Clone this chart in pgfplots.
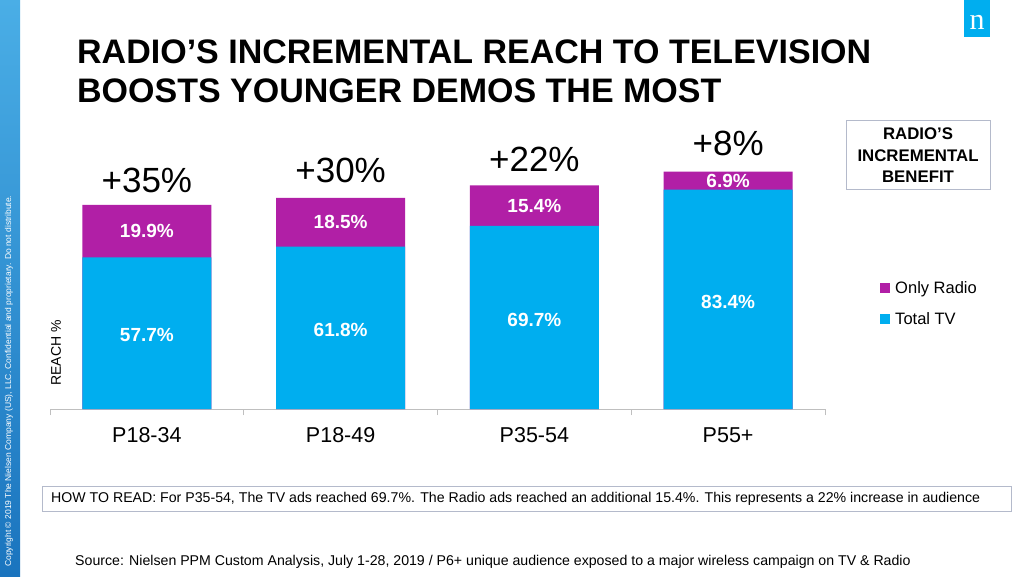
\documentclass[border=0pt]{standalone}
\usepackage{fontspec}
\setmainfont{Liberation Sans}
\newfontfamily\seriffont{Liberation Serif}
\usepackage{pgfplots}
\usepackage{pgfplotstable}
\pgfplotsset{compat=1.18}
\definecolor{tvblue}{HTML}{00AEEF}
\definecolor{radiopurple}{HTML}{B11FA6}
\definecolor{axisgray}{HTML}{BFBFBF}
\definecolor{boxgray}{HTML}{B4BACB}
\definecolor{nielsen}{HTML}{00AEEF}
\definecolor{striptop}{HTML}{4AAEE6}
\definecolor{stripbot}{HTML}{1A74BE}

% x: category index, tv: Total TV reach, radio: Only Radio reach,
% inc: incremental benefit, incy: height of the benefit label
\pgfplotstableread{
x tv radio inc incy
0 57.7 19.9 35 82.5
1 61.8 18.5 30 86.0
2 69.7 15.4 22 90.5
3 83.4 6.9 8 96.6
}\datatable

\pgfplotsset{
  sq legend/.style={legend image code/.code={\fill[##1] (0pt,-4pt) rectangle (10pt,6pt);}},
}

\begin{document}
\begin{tikzpicture}
\fill[white] (0,0) rectangle (1024pt,576pt);
% left strip
\shade[top color=striptop, bottom color=stripbot] (0,0) rectangle (20pt,576pt);
\node[rotate=90, anchor=base west, text=white, inner sep=0pt,
      font=\fontsize{8.5}{9}\selectfont] at (11pt,9pt)
  {Copyright © 2019 The Nielsen Company (US), LLC. Confidential and proprietary. Do not distribute.};
% logo
\fill[nielsen] (964pt,539pt) rectangle (990pt,576pt);
\node[text=white, inner sep=0pt, font=\seriffont\fontsize{30}{30}\selectfont] at (977pt,553.5pt) {n};
% title
\node[anchor=base west, inner sep=0pt, font=\bfseries\fontsize{34}{40}\selectfont] at (77pt,512.5pt)
  {RADIO’S INCREMENTAL REACH TO TELEVISION};
\node[anchor=base west, inner sep=0pt, font=\bfseries\fontsize{34}{40}\selectfont] at (77pt,473pt)
  {BOOSTS YOUNGER DEMOS THE MOST};

\begin{axis}[
  at={(50pt,167pt)}, anchor=south west,
  width=775pt, height=262.9pt, scale only axis,
  xmin=-0.5, xmax=3.5, ymin=0, ymax=100,
  axis x line*=bottom, axis y line=none,
  x axis line style={draw=axisgray, line width=1pt},
  xtick={0,1,2,3}, xticklabels={P18-34,P18-49,P35-54,P55+},
  minor xtick={-0.5,0.5,1.5,2.5,3.5},
  major tick length=0pt, minor tick length=6pt, tick align=outside,
  minor tick style={draw=axisgray, line width=1pt},
  xticklabel style={anchor=base, yshift=-33pt, font=\fontsize{21.5}{22}\selectfont},
  clip=false,
  /pgf/number format/assume math mode=true,
  legend cell align=left,
  legend style={draw=none, fill=none, at={(1.071,0.397)}, anchor=west,
    font=\fontsize{16.5}{18}\selectfont, inner sep=0pt,
    nodes={inner sep=0pt, text height=12pt, text depth=3pt},
    row sep=15.5pt, column sep=5pt},
]
\addplot[ybar, bar width=129pt, bar shift=0pt, fill=radiopurple, draw=none, sq legend]
  table[x=x, y expr=\thisrow{tv}+\thisrow{radio}] {\datatable};
\addlegendentry{Only Radio}
\addplot[ybar, bar width=129pt, bar shift=0pt, fill=tvblue, draw=none, sq legend]
  table[x=x, y=tv] {\datatable};
\addlegendentry{Total TV}
% value labels
\addplot[draw=none, mark=none, forget plot, point meta=explicit,
  nodes near coords={\pgfmathprintnumber[fixed,fixed zerofill,precision=1]{\pgfplotspointmeta}\%},
  every node near coord/.style={anchor=center, text=white, inner sep=0pt,
    font=\bfseries\fontsize{19}{19}\selectfont}]
  table[x=x, y expr=\thisrow{tv}/2-0.8, meta=tv] {\datatable};
\addplot[draw=none, mark=none, forget plot, point meta=explicit,
  nodes near coords={\pgfmathprintnumber[fixed,fixed zerofill,precision=1]{\pgfplotspointmeta}\%},
  every node near coord/.style={anchor=center, text=white, inner sep=0pt,
    font=\bfseries\fontsize{19}{19}\selectfont}]
  table[x=x, y expr=\thisrow{tv}+\thisrow{radio}/2, meta=radio] {\datatable};
% incremental benefit labels
\addplot[draw=none, mark=none, forget plot, point meta=explicit symbolic,
  nodes near coords={+\pgfplotspointmeta\%},
  every node near coord/.style={anchor=base, text=black, inner sep=0pt,
    font=\fontsize{35}{35}\selectfont}]
  table[x=x, y=incy, meta=inc] {\datatable};
\end{axis}

% y label
\node[rotate=90, inner sep=0pt, font=\fontsize{14}{14}\selectfont] at (56pt,223pt) {REACH \%};
% benefit box
\draw[boxgray, line width=1pt] (846pt,386pt) rectangle (990pt,455pt);
\node[align=center, inner sep=0pt, font=\bfseries\fontsize{16.8}{21.5}\selectfont] at (918pt,420.5pt)
  {RADIO’S\\INCREMENTAL\\BENEFIT};
% how to read box
\draw[boxgray, line width=1pt] (42pt,65pt) rectangle (1011pt,90pt);
\node[anchor=base west, inner sep=0pt, font=\fontsize{14.15}{16}\selectfont] at (51pt,74pt)
  {HOW TO READ: For P35-54, The TV ads reached 69.7\%. The Radio ads reached an additional 15.4\%. This represents a 22\% increase in audience};
% source
\node[anchor=base west, inner sep=0pt, font=\fontsize{14.15}{16}\selectfont] at (75pt,11pt)
  {Source: Nielsen PPM Custom Analysis, July 1-28, 2019 / P6+ unique audience exposed to a major wireless campaign on TV \& Radio};
\pgfresetboundingbox
\path[use as bounding box] (0,0) rectangle (1024pt,576pt);
\end{tikzpicture}
\end{document}
